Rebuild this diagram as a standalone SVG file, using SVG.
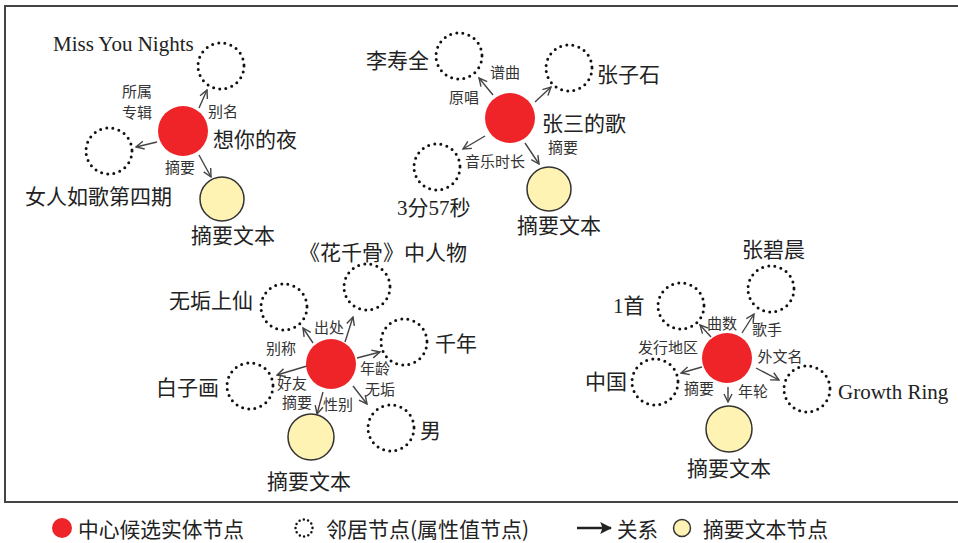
<svg xmlns="http://www.w3.org/2000/svg" width="958" height="543" viewBox="0 0 958 543">
<defs>
<marker id="arr" viewBox="0 0 10 10" refX="9" refY="5" markerWidth="10" markerHeight="10" markerUnits="userSpaceOnUse" orient="auto">
<path d="M1,1 L9,5 L1,9" fill="none" stroke="#444" stroke-width="1.4"/>
</marker>
<marker id="arrL" viewBox="0 0 10 10" refX="9" refY="5" markerWidth="12" markerHeight="12" markerUnits="userSpaceOnUse" orient="auto">
<path d="M0,0 L10,5 L0,10 L2,5 Z" fill="#222"/>
</marker>
</defs>
<style>
.c{fill:#ee2428}
.d{fill:none;stroke:#111;stroke-width:3;stroke-dasharray:0 6.2;stroke-linecap:round}
.y{fill:#fff3b3;stroke:#333;stroke-width:1.5}
.e{stroke:#444;stroke-width:1.4;fill:none;marker-end:url(#arr)}
.t{font-family:"Liberation Serif","Noto Sans CJK SC",serif;font-size:21px;fill:#222;dominant-baseline:central}
.l{font-family:"Liberation Serif","Noto Sans CJK SC",serif;font-size:15px;fill:#333;dominant-baseline:central;text-anchor:middle}
.g{font-family:"Noto Sans CJK SC",sans-serif;font-size:21px;fill:#222;dominant-baseline:central}
</style>
<rect x="5" y="6" width="960" height="496" fill="none" stroke="#444" stroke-width="2"/>

<g id="connectors">
<line class="e" x1="199" y1="108" x2="207" y2="90"/>
<line class="e" x1="157" y1="142" x2="136" y2="147"/>
<line class="e" x1="199" y1="155" x2="211" y2="177"/>

<line class="e" x1="493" y1="95" x2="479" y2="78"/>
<line class="e" x1="535" y1="102" x2="551" y2="87"/>
<line class="e" x1="485" y1="136" x2="463" y2="149"/>
<line class="e" x1="525" y1="143" x2="539" y2="164"/>

<line class="e" x1="345" y1="342" x2="353" y2="317"/>
<line class="e" x1="313" y1="343" x2="303" y2="328"/>
<line class="e" x1="357" y1="358" x2="380" y2="352"/>
<line class="e" x1="307" y1="366" x2="277" y2="375"/>
<line class="e" x1="353" y1="386" x2="367" y2="404"/>
<line class="e" x1="323" y1="392" x2="317" y2="414"/>

<line class="e" x1="742" y1="333" x2="754" y2="314"/>
<line class="e" x1="711" y1="337" x2="700" y2="325"/>
<line class="e" x1="702" y1="367" x2="681" y2="373"/>
<line class="e" x1="756" y1="368" x2="779" y2="380"/>
<line class="e" x1="728" y1="387" x2="728" y2="402"/>

<text class="l" x="137" y="92">所属</text>
<text class="l" x="137" y="113">专辑</text>
<text class="l" x="223" y="112">别名</text>
<text class="l" x="180" y="168">摘要</text>

<text class="l" x="505" y="73">谱曲</text>
<text class="l" x="464" y="98">原唱</text>
<text class="l" x="495" y="162">音乐时长</text>
<text class="l" x="563" y="148">摘要</text>

<text class="l" x="329" y="328">出处</text>
<text class="l" x="281" y="349">别称</text>
<text class="l" x="375" y="369">年龄</text>
<text class="l" x="292" y="384">好友</text>
<text class="l" x="380" y="390">无垢</text>
<text class="l" x="297" y="403">摘要</text>
<text class="l" x="338" y="405">性别</text>

<text class="l" x="722" y="324">曲数</text>
<text class="l" x="767" y="330">歌手</text>
<text class="l" x="668" y="348">发行地区</text>
<text class="l" x="780" y="357">外文名</text>
<text class="l" x="699" y="389">摘要</text>
<text class="l" x="753" y="392">年轮</text>
</g>

<!-- group 1 -->
<g id="n1-center"><circle class="c" cx="183" cy="131" r="25"/><text class="t" x="213" y="140">想你的夜</text></g>
<g id="n1-alias"><circle class="d" cx="221" cy="66" r="23"/><text class="t" x="53" y="44">Miss You Nights</text></g>
<g id="n1-album"><circle class="d" cx="109" cy="151" r="23"/><text class="t" x="25" y="197">女人如歌第四期</text></g>
<g id="n1-summary"><circle class="y" cx="222" cy="199" r="22"/><text class="t" x="191" y="236">摘要文本</text></g>

<!-- group 2 -->
<g id="n2-center"><circle class="c" cx="510" cy="118" r="25"/><text class="t" x="542" y="124">张三的歌</text></g>
<g id="n2-composer"><circle class="d" cx="459" cy="56" r="23"/><text class="t" x="366" y="61">李寿全</text></g>
<g id="n2-singer"><circle class="d" cx="569" cy="68" r="23"/><text class="t" x="597" y="75">张子石</text></g>
<g id="n2-duration"><circle class="d" cx="437" cy="167" r="23"/><text class="t" x="397" y="208">3分57秒</text></g>
<g id="n2-summary"><circle class="y" cx="549" cy="189" r="22"/><text class="t" x="517" y="226">摘要文本</text></g>

<!-- group 3 -->
<g id="n3-center"><circle class="c" cx="331" cy="364" r="25"/></g>
<g id="n3-source"><circle class="d" cx="367" cy="287" r="23"/><text class="t" x="299" y="253">《花千骨》中人物</text></g>
<g id="n3-alias"><circle class="d" cx="284" cy="307" r="23"/><text class="t" x="169" y="301">无垢上仙</text></g>
<g id="n3-age"><circle class="d" cx="404" cy="342" r="23"/><text class="t" x="435" y="344">千年</text></g>
<g id="n3-friend"><circle class="d" cx="250" cy="386" r="23"/><text class="t" x="156" y="388">白子画</text></g>
<g id="n3-gender"><circle class="d" cx="391" cy="428" r="23"/><text class="t" x="420" y="431">男</text></g>
<g id="n3-summary"><circle class="y" cx="311" cy="437" r="23"/><text class="t" x="267" y="482">摘要文本</text></g>

<!-- group 4 -->
<g id="n4-center"><circle class="c" cx="727" cy="358" r="25"/></g>
<g id="n4-singer"><circle class="d" cx="771" cy="289" r="23"/><text class="t" x="742" y="250">张碧晨</text></g>
<g id="n4-count"><circle class="d" cx="681" cy="306" r="23"/><text class="t" x="613" y="306">1首</text></g>
<g id="n4-region"><circle class="d" cx="655" cy="382" r="23"/><text class="t" x="585" y="382">中国</text></g>
<g id="n4-foreign"><circle class="d" cx="807" cy="389" r="23"/><text class="t" x="838" y="392">Growth Ring</text></g>
<g id="n4-summary"><circle class="y" cx="729" cy="429" r="23"/><text class="t" x="687" y="469">摘要文本</text></g>

<!-- legend -->
<g id="legend">
<circle class="c" cx="62" cy="528" r="10"/>
<text class="g" x="78" y="528" textLength="166" lengthAdjust="spacingAndGlyphs">中心候选实体节点</text>
<circle class="d" cx="304" cy="528" r="8.5" style="stroke-width:2.5;stroke-dasharray:0 4.4"/>
<text class="g" x="326" y="528" textLength="203" lengthAdjust="spacingAndGlyphs">邻居节点(属性值节点)</text>
<line x1="577" y1="528" x2="611" y2="528" stroke="#222" stroke-width="2.5" marker-end="url(#arrL)"/>
<text class="g" x="617" y="528" textLength="41" lengthAdjust="spacingAndGlyphs">关系</text>
<circle class="y" cx="682" cy="528" r="8.5"/>
<text class="g" x="703" y="528" textLength="125" lengthAdjust="spacingAndGlyphs">摘要文本节点</text>
</g>
</svg>
